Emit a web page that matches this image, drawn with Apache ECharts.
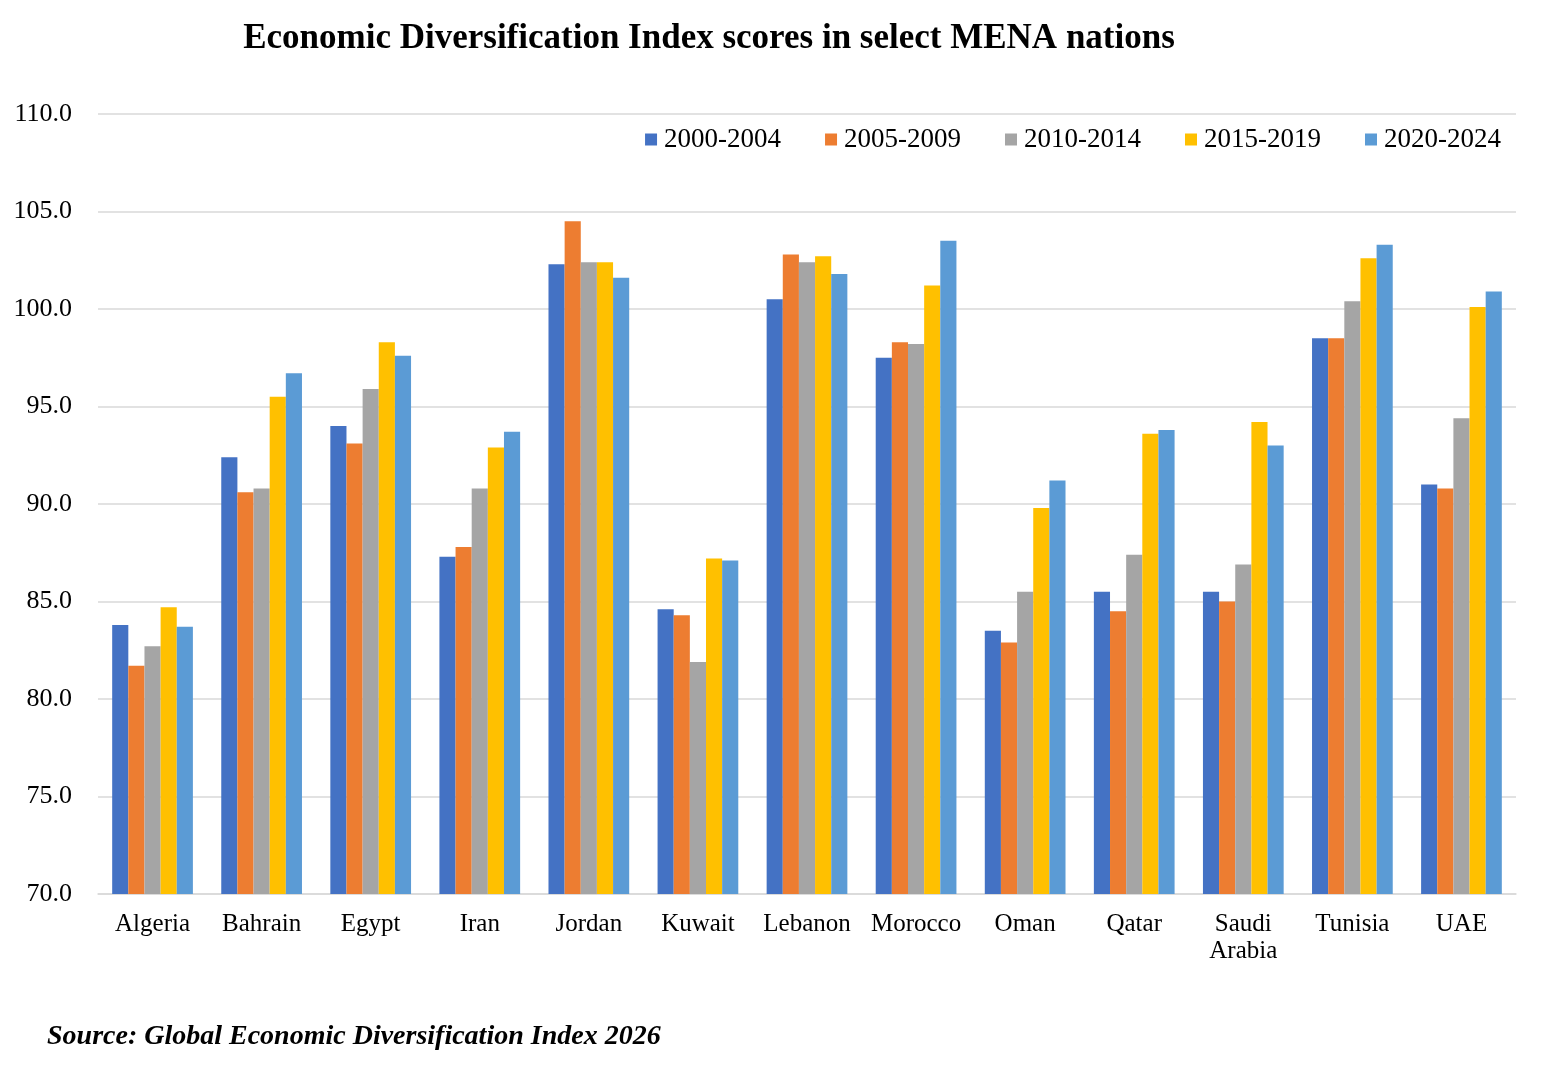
<!DOCTYPE html>
<html><head><meta charset="utf-8">
<script src="https://cdn.jsdelivr.net/npm/echarts@6/dist/echarts.min.js"></script>
<style>html,body{margin:0;padding:0;background:#fff}#c{width:1562px;height:1078px}</style>
</head><body><div id="c"></div>
<script>
const categories = ["Algeria","Bahrain","Egypt","Iran","Jordan","Kuwait","Lebanon","Morocco","Oman","Qatar","Saudi\nArabia","Tunisia","UAE"];
const seriesNames = ["2000-2004","2005-2009","2010-2014","2015-2019","2020-2024"];
const s2000 = [83.8, 92.4, 94.0, 87.3, 102.3, 84.6, 100.5, 97.5, 83.5, 85.5, 85.5, 98.5, 91.0];
const s2005 = [81.7, 90.6, 93.1, 87.8, 104.5, 84.3, 102.8, 98.3, 82.9, 84.5, 85.0, 98.5, 90.8];
const s2010 = [82.7, 90.8, 95.9, 90.8, 102.4, 81.9, 102.4, 98.2, 85.5, 87.4, 86.9, 100.4, 94.4];
const s2015 = [84.7, 95.5, 98.3, 92.9, 102.4, 87.2, 102.7, 101.2, 89.8, 93.6, 94.2, 102.6, 100.1];
const s2020 = [83.7, 96.7, 97.6, 93.7, 101.6, 87.1, 101.8, 103.5, 91.2, 93.8, 93.0, 103.3, 100.9];
const colors = ["#4472C4","#ED7D31","#A5A5A5","#FFC000","#5B9BD5"];
const allData = [s2000, s2005, s2010, s2015, s2020];
const serif = "'Liberation Serif','Times New Roman',serif";

const chart = echarts.init(document.getElementById('c'));
chart.setOption({
  animation: false,
  color: colors,
  title: {
    text: "Economic Diversification Index scores in select MENA nations",
    left: 704, textAlign: 'center', top: 16,
    textStyle: {fontFamily: serif, fontWeight: 'bold', fontSize: 35, color: '#000'}
  },
  graphic: [{
    type: 'text', left: 47, top: 1023,
    style: {text: "Source: Global Economic Diversification Index 2026", font: "italic bold 28px 'Liberation Serif', serif", fill: '#000'}
  }],
  legend: {
    data: seriesNames, right: 56, top: 121,
    icon: 'rect', itemWidth: 12, itemHeight: 12, itemGap: 44,
    textStyle: {fontFamily: serif, fontSize: 27, color: '#000', padding: [0, 0, 0, 2]}
  },
  grid: {left: 98, right: 46, top: 114, bottom: 184},
  xAxis: {
    type: 'category', data: categories,
    axisLine: {lineStyle: {color: '#d9d9d9', width: 1.5}},
    axisTick: {show: false},
    axisLabel: {fontFamily: serif, fontSize: 25, color: '#000', margin: 17, lineHeight: 27, interval: 0, hideOverlap: false}
  },
  yAxis: {
    type: 'value', min: 70, max: 110, interval: 5,
    axisLine: {show: false}, axisTick: {show: false},
    splitLine: {lineStyle: {color: '#d9d9d9', width: 1.5}},
    axisLabel: {fontFamily: serif, fontSize: 26, color: '#000', margin: 26, formatter: v => v.toFixed(1)}
  },
  series: seriesNames.map((n, i) => ({
    name: n, type: 'bar', data: allData[i],
    barGap: '0%', barCategoryGap: '26%',
    itemStyle: {color: colors[i]}
  }))
});
</script></body></html>
